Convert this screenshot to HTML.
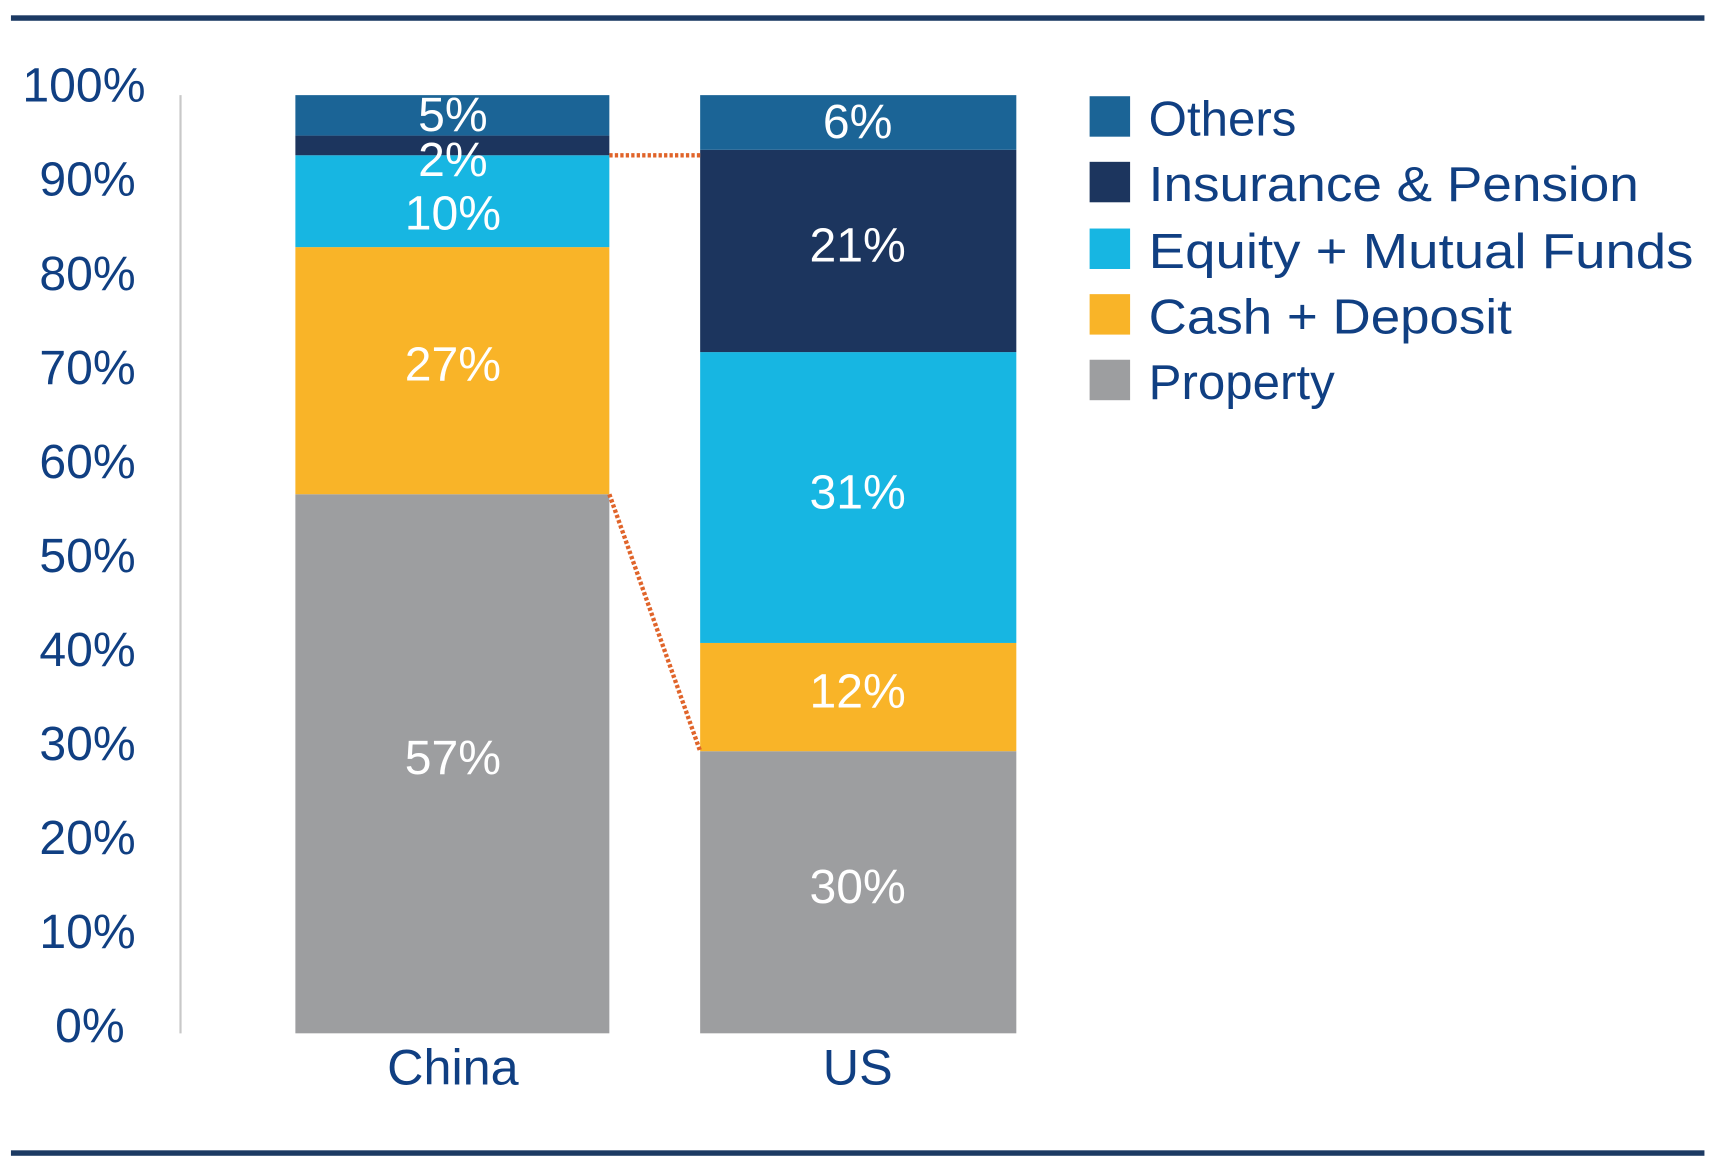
<!DOCTYPE html>
<html><head><meta charset="utf-8"><style>html,body{margin:0;padding:0;background:#fff}svg{display:block}</style></head>
<body>
<svg width="1711" height="1170" viewBox="0 0 1564 1070" preserveAspectRatio="none" xmlns="http://www.w3.org/2000/svg" font-family="Liberation Sans, sans-serif">
<rect x="10" y="14" width="1548" height="5" fill="#1c3a63"/>
<rect x="10" y="1052" width="1548" height="5" fill="#1c3a63"/>
<line x1="165" y1="87" x2="165" y2="945" stroke="#c8c8c8" stroke-width="2"/>
<g fill="#103f82" font-size="44" text-anchor="end">
<text x="133" y="93">100%</text><text x="124" y="179">90%</text><text x="124" y="265">80%</text><text x="124" y="351">70%</text><text x="124" y="437">60%</text><text x="124" y="523">50%</text><text x="124" y="609">40%</text><text x="124" y="695">30%</text><text x="124" y="781">20%</text><text x="124" y="867">10%</text><text x="114" y="953">0%</text>
</g>
<rect x="270" y="452" width="287" height="493" fill="#9d9ea0"/>
<rect x="270" y="226" width="287" height="226" fill="#f9b428"/>
<rect x="270" y="142" width="287" height="84" fill="#17b6e2"/>
<rect x="270" y="124" width="287" height="18" fill="#1c355e"/>
<rect x="270" y="87" width="287" height="37" fill="#1b6496"/>
<rect x="640" y="687" width="289" height="258" fill="#9d9ea0"/>
<rect x="640" y="588" width="289" height="99" fill="#f9b428"/>
<rect x="640" y="322" width="289" height="266" fill="#17b6e2"/>
<rect x="640" y="137" width="289" height="185" fill="#1c355e"/>
<rect x="640" y="87" width="289" height="50" fill="#1b6496"/>
<g stroke="#e0642a" stroke-width="4" stroke-dasharray="3,2" fill="none">
<line x1="557" y1="142" x2="640" y2="142"/>
<line x1="557" y1="452" x2="640" y2="687"/>
</g>
<g fill="#fff" font-size="44" text-anchor="middle">
<text x="414" y="120">5%</text><text x="414" y="161">2%</text><text x="414" y="210">10%</text><text x="414" y="348">27%</text><text x="414" y="708">57%</text>
<text x="784" y="126">6%</text><text x="784" y="239">21%</text><text x="784" y="465">31%</text><text x="784" y="647">12%</text><text x="784" y="826">30%</text>
</g>
<g fill="#103f82" font-size="46" text-anchor="middle">
<text x="414" y="992">China</text><text x="784" y="992">US</text>
</g>
<rect x="996" y="88" width="37" height="37" fill="#1b6496"/>
<rect x="996" y="148" width="37" height="37" fill="#1c355e"/>
<rect x="996" y="209" width="37" height="37" fill="#17b6e2"/>
<rect x="996" y="269" width="37" height="37" fill="#f9b428"/>
<rect x="996" y="329" width="37" height="37" fill="#9d9ea0"/>
<g fill="#103f82" font-size="45">
<text x="1050" y="124">Others</text>
<text x="1050" y="184" textLength="448" lengthAdjust="spacingAndGlyphs">Insurance &amp; Pension</text>
<text x="1050" y="245" textLength="498" lengthAdjust="spacingAndGlyphs">Equity + Mutual Funds</text>
<text x="1050" y="305" textLength="332" lengthAdjust="spacingAndGlyphs">Cash + Deposit</text>
<text x="1050" y="365">Property</text>
</g>
</svg>
</body></html>
